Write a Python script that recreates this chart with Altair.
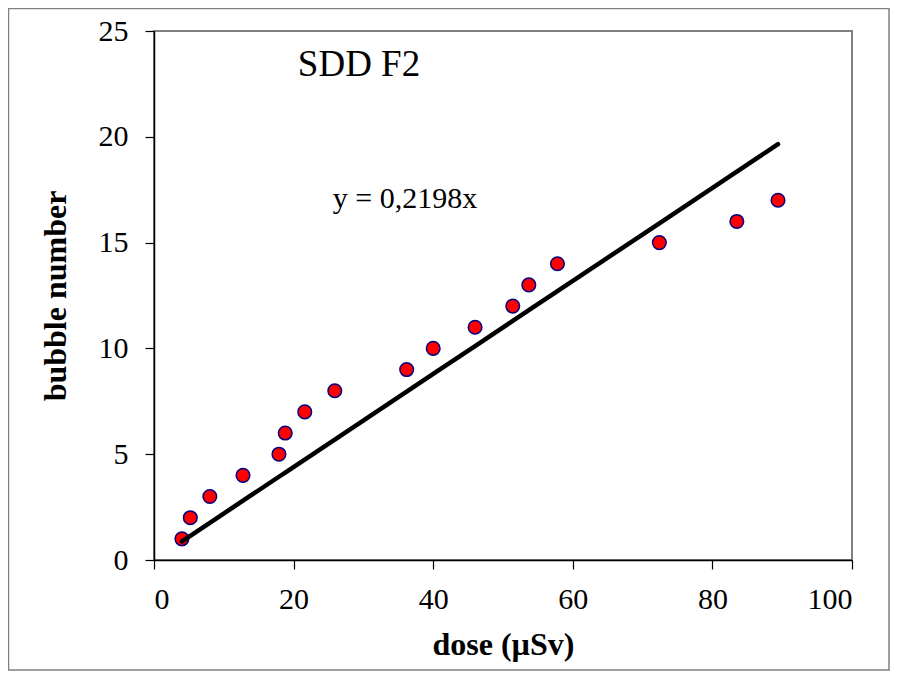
import altair as alt
import pandas as pd

# Data
dose = [4.0, 5.2, 8.0, 12.75, 17.9, 18.8, 21.6, 25.9, 36.2, 40.0, 46.0, 51.4, 53.7, 57.8, 72.4, 83.5, 89.4]
bubbles = [1, 2, 3, 4, 5, 6, 7, 8, 9, 10, 11, 12, 13, 14, 15, 16, 17]
slope = 0.2198
x_ticks = [0, 20, 40, 60, 80, 100]
y_ticks = [0, 5, 10, 15, 20, 25]
title_text = "SDD F2"
equation_text = "y = 0,2198x"

df = pd.DataFrame({"dose": dose, "bubbles": bubbles})

FONT = "Liberation Serif"
W, H = 698, 529

xs = alt.Scale(domain=[0, 100], nice=False, zero=True)
ys = alt.Scale(domain=[0, 25], nice=False, zero=True)

axis_style = dict(
    labelFont=FONT, labelFontSize=30, labelColor="black",
    titleFont=FONT, titleFontSize=32, titleFontWeight="bold", titleColor="black",
    domainColor="black", domainWidth=1.5, tickColor="black", tickWidth=1.2,
    tickSize=9, grid=False,
)

x_axis = alt.Axis(values=x_ticks, title="dose (µSv)", labelPadding=15, titlePadding=15, **axis_style)
y_axis = alt.Axis(values=y_ticks, title="bubble number", labelPadding=17, titlePadding=26, **axis_style)

base = alt.Chart(df)

points = base.mark_point(
    shape="circle", filled=True, fill="#ff0000", stroke="#000080",
    strokeWidth=1.5, size=185, opacity=1
).encode(
    x=alt.X("dose:Q", scale=xs, axis=x_axis),
    y=alt.Y("bubbles:Q", scale=ys, axis=y_axis),
)

fit_line = base.transform_calculate(
    fit=f"{slope} * datum.dose"
).mark_line(color="black", strokeWidth=4.5, strokeCap="round").encode(
    x=alt.X("dose:Q", scale=xs),
    y=alt.Y("fit:Q", scale=ys),
)

label_df = pd.DataFrame({"t": [title_text], "e": [equation_text]})
title_mark = alt.Chart(label_df).mark_text(
    font=FONT, fontSize=37, color="black", align="center", baseline="middle"
).encode(text="t:N", x=alt.value(205), y=alt.value(34))

eq_mark = alt.Chart(label_df).mark_text(
    font=FONT, fontSize=30, color="black", align="center", baseline="middle"
).encode(text="e:N", x=alt.value(251), y=alt.value(168))

frame = alt.Chart(label_df).mark_rect(
    fill=None, stroke="#808080", strokeWidth=1.5
).encode(
    x=alt.value(-145.5), x2=alt.value(W + 37),
    y=alt.value(-22.5), y2=alt.value(H + 110),
)

chart = alt.layer(frame, points, fit_line, title_mark, eq_mark).properties(
    width=W, height=H,
    autosize=alt.AutoSizeParams(type="none"),
    padding={"left": 146, "top": 23, "right": 38, "bottom": 111},
    background="white",
).configure_view(
    stroke="#808080", strokeWidth=2
).configure_axis(**axis_style)

chart.save("out.html", embed_options={"renderer": "svg", "actions": False})
